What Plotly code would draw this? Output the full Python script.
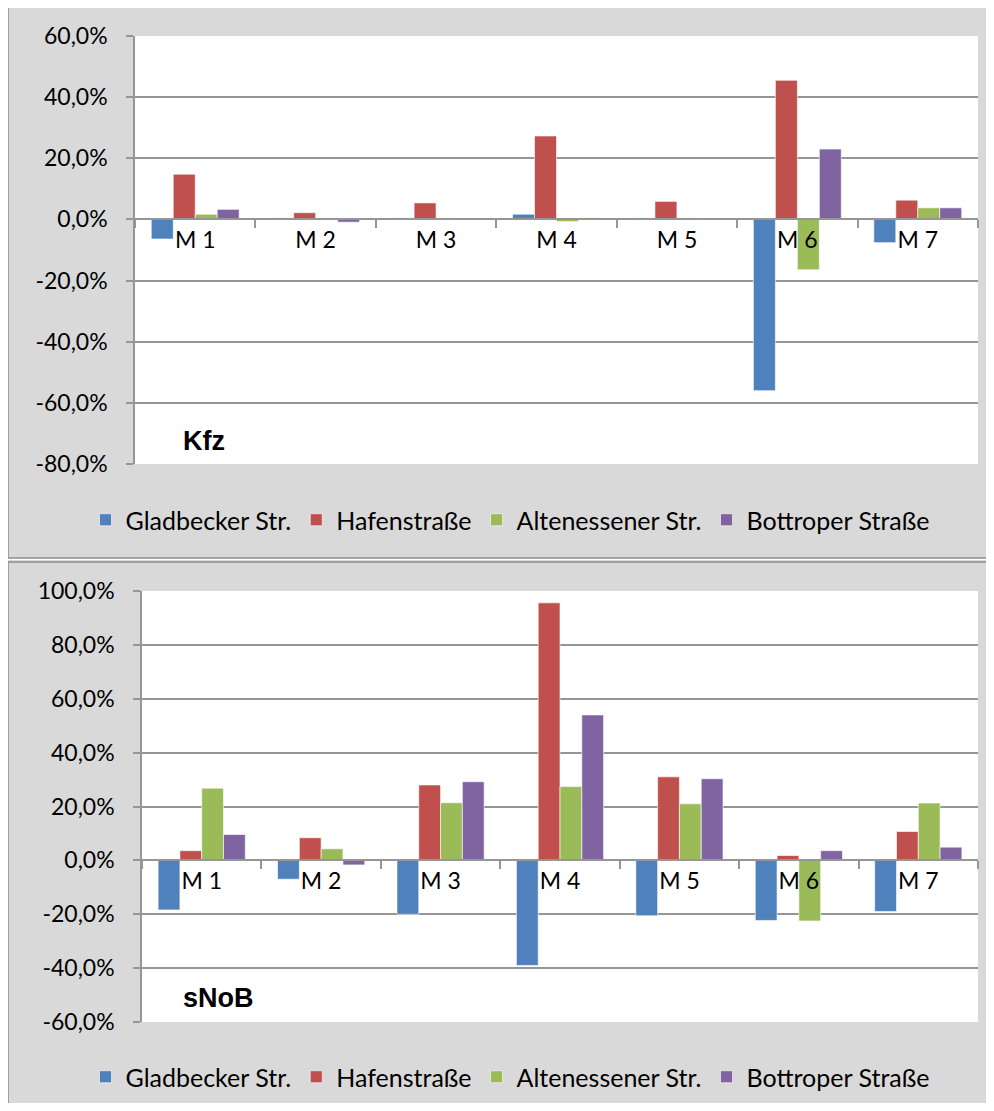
import plotly.graph_objects as go

# the page body has an 8px margin, so the figure is drawn 8px in from the corner
OFF = 8
W, H = 994 - OFF, 1111 - 2 * OFF

categories = ["M 1", "M 2", "M 3", "M 4", "M 5", "M 6", "M 7"]
series_names = ["Gladbecker Str.", "Hafenstraße", "Altenessener Str.", "Bottroper Straße"]
colors = ["#4F81BD", "#C0504D", "#9BBB59", "#8064A2"]

# Kfz (Prozent)
kfz_gladbecker = [-6.4, 0.5, 0.5, 1.7, 0.5, -56.0, -7.6]
kfz_hafen = [14.8, 2.2, 5.4, 27.3, 5.9, 45.5, 6.3]
kfz_altenessener = [1.7, 0.5, 0.5, -0.7, 0.5, -16.5, 3.8]
kfz_bottroper = [3.3, -0.9, 0.0, 0.5, 0.0, 23.0, 3.8]

# sNoB (Prozent)
snob_gladbecker = [-18.4, -7.0, -20.0, -39.0, -20.6, -22.3, -19.0]
snob_hafen = [3.6, 8.4, 28.0, 95.6, 31.0, 1.8, 10.7]
snob_altenessener = [26.8, 4.3, 21.4, 27.4, 21.0, -22.5, 21.3]
snob_bottroper = [9.6, -1.7, 29.2, 54.0, 30.3, 3.6, 4.9]

kfz_ticks = [-80, -60, -40, -20, 0, 20, 40, 60]
snob_ticks = [-60, -40, -20, 0, 20, 40, 60, 80, 100]


def pct(v):
    return f"{v:.1f}%".replace(".", ",")


def px(x):
    return (x - OFF) / W


def py(y):
    return 1 - (y - OFF) / H


FONT = "Lato"
GRID = "#969696"
top_dom = [py(464), py(36)]
bot_dom = [py(1022), py(591)]

fig = go.Figure()
kfz = [kfz_gladbecker, kfz_hafen, kfz_altenessener, kfz_bottroper]
snob = [snob_gladbecker, snob_hafen, snob_altenessener, snob_bottroper]
for name, col, vals in zip(series_names, colors, kfz):
    fig.add_trace(go.Bar(x=categories, y=vals, name=name, marker_color=col,
                         marker_line=dict(color="rgba(255,255,255,0.6)", width=1),
                         xaxis="x", yaxis="y", legend="legend"))
for name, col, vals in zip(series_names, colors, snob):
    fig.add_trace(go.Bar(x=categories, y=vals, name=name, marker_color=col,
                         marker_line=dict(color="rgba(255,255,255,0.6)", width=1),
                         xaxis="x2", yaxis="y2", legend="legend2"))


def zero_pos(dom, rng):
    return dom[0] + (0 - rng[0]) / (rng[1] - rng[0]) * (dom[1] - dom[0])


kfz_rng = [kfz_ticks[0], kfz_ticks[-1]]
snob_rng = [snob_ticks[0], snob_ticks[-1]]

xax = dict(anchor="free", automargin=False, showgrid=False, showline=True, linecolor=GRID,
           linewidth=1.5, ticks="outside", tickson="boundaries", ticklen=8, tickcolor=GRID,
           tickwidth=1.5, tickfont=dict(family=FONT, size=23, color="#000"))
yax = dict(automargin=False, showgrid=True, gridcolor=GRID, gridwidth=1.5, zeroline=False,
           showline=True, linecolor=GRID, linewidth=1.5, ticks="outside", ticklen=7,
           tickcolor=GRID, tickwidth=1.5, ticklabelstandoff=14,
           tickfont=dict(family=FONT, size=23, color="#000"))
leg = dict(orientation="h", x=px(510), xanchor="center", yanchor="middle",
           font=dict(family=FONT, size=25, color="#000"), bgcolor="rgba(0,0,0,0)")

fig.update_layout(
    width=W, height=H, margin=dict(l=0, r=0, t=0, b=0, autoexpand=False),
    paper_bgcolor="#d9d9d9", plot_bgcolor="white",
    barmode="group", bargap=0.27, bargroupgap=0,
    xaxis=dict(xax, domain=[px(135), px(978)], position=zero_pos(top_dom, kfz_rng)),
    yaxis=dict(yax, domain=top_dom, range=kfz_rng, tickvals=kfz_ticks,
               ticktext=[pct(v) for v in kfz_ticks], anchor="x"),
    xaxis2=dict(xax, domain=[px(142), px(978)], position=zero_pos(bot_dom, snob_rng)),
    yaxis2=dict(yax, domain=bot_dom, range=snob_rng, tickvals=snob_ticks,
                ticktext=[pct(v) for v in snob_ticks], anchor="x2"),
    legend=dict(leg, y=py(520)),
    legend2=dict(leg, y=py(1077)),
    shapes=[
        dict(type="rect", xref="paper", yref="paper", x0=-0.01, x1=1.01, y0=py(560), y1=1.01,
             fillcolor="white", line=dict(width=0), layer="below"),
        dict(type="rect", xref="paper", yref="paper", x0=px(8), x1=1.01, y0=py(558), y1=py(7),
             fillcolor="#d9d9d9", line=dict(color="#8c8c8c", width=1.5), layer="below"),
        dict(type="rect", xref="paper", yref="paper", x0=px(8), x1=1.01, y0=-0.01, y1=py(562),
             fillcolor="#d9d9d9", line=dict(color="#8c8c8c", width=1.5), layer="below"),
        dict(type="rect", xref="paper", yref="paper", x0=px(135), x1=px(978), y0=top_dom[0], y1=top_dom[1],
             fillcolor="white", line=dict(width=0), layer="below"),
        dict(type="rect", xref="paper", yref="paper", x0=px(142), x1=px(978), y0=bot_dom[0], y1=bot_dom[1],
             fillcolor="white", line=dict(width=0), layer="below"),
    ],
    annotations=[
        dict(text="<b>Kfz</b>", xref="paper", yref="paper", x=px(181), y=py(441), xanchor="left",
             yanchor="middle", showarrow=False, font=dict(family="Liberation Sans", size=27, color="#000")),
        dict(text="<b>sNoB</b>", xref="paper", yref="paper", x=px(181), y=py(998), xanchor="left",
             yanchor="middle", showarrow=False, font=dict(family="Liberation Sans", size=27, color="#000")),
    ],
)

fig.write_html("out.html")
